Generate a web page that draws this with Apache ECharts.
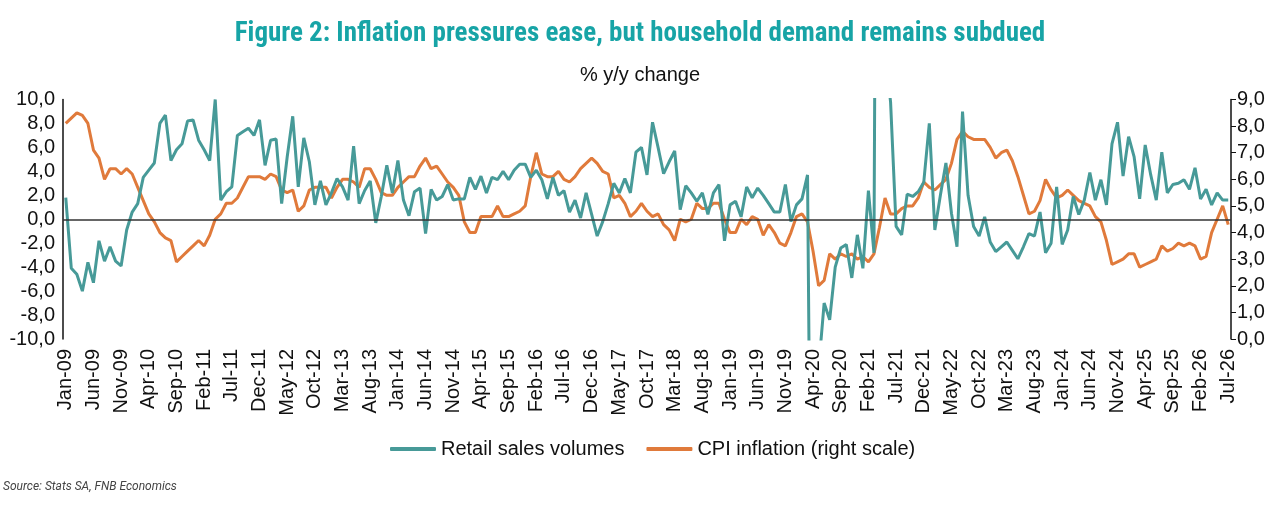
<!DOCTYPE html>
<html>
<head>
<meta charset="utf-8">
<script src="https://cdn.jsdelivr.net/npm/echarts@6/dist/echarts.min.js"></script>
<style>
  html, body { margin: 0; padding: 0; background: #fff; }
  #chart { width: 1280px; height: 520px; }
</style>
</head>
<body>
<div id="chart"></div>
<script>
// month labels Jan-09 ... Jul-26
var monthNames = ['Jan', 'Feb', 'Mar', 'Apr', 'May', 'Jun', 'Jul', 'Aug', 'Sep', 'Oct', 'Nov', 'Dec'];
var categories = [];
for (var y = 2009; y <= 2026; y++) {
    for (var m = 0; m < 12; m++) {
        if (y === 2026 && m > 6) break;
        categories.push(monthNames[m] + '-' + String(y).slice(2));
    }
}

// Retail sales volumes, % y/y (left scale)
var retail = [
    1.8, -4.1, -4.6, -6.0, -3.6, -5.3, -1.8, -3.5, -2.3, -3.5, -3.9, -0.9,   // 2009
    0.6, 1.3, 3.5, 4.1, 4.7, 8.0, 8.7, 4.9, 5.8, 6.3, 8.2, 8.3,              // 2010
    6.6, 5.8, 4.9, 10.0, 1.6, 2.3, 2.7, 7.0, 7.3, 7.6, 7.0, 8.3,             // 2011
    4.5, 6.6, 6.7, 1.3, 5.2, 8.6, 2.7, 6.8, 4.8, 1.2, 3.2, 1.2,              // 2012
    2.2, 3.4, 2.7, 1.6, 6.1, 1.3, 2.4, 3.2, -0.3, 1.9, 4.5, 2.2,             // 2013
    4.9, 1.6, 0.3, 2.3, 2.6, -1.2, 2.5, 1.6, 1.9, 2.9, 1.6, 1.7,             // 2014
    1.7, 3.5, 2.5, 3.6, 2.2, 3.5, 3.3, 4.0, 3.3, 4.1, 4.6, 4.6,              // 2015
    3.5, 4.1, 3.3, 1.7, 3.5, 2.0, 2.4, 0.6, 1.6, 0.1, 2.2, 0.4,              // 2016
    -1.4, -0.2, 1.3, 3.0, 2.2, 3.4, 2.2, 5.6, 6.0, 3.7, 8.1, 6.0,            // 2017
    3.8, 4.8, 5.7, 0.8, 2.8, 2.2, 1.5, 2.2, 0.4, 2.2, 2.9, -1.8,             // 2018
    1.2, 1.5, 0.2, 2.7, 1.8, 2.6, 2.0, 1.3, 0.6, 0.6, 2.9, -0.2,             // 2019
    1.2, 1.7, 3.7, -50.0, -12.5, -7.0, -8.4, -4.0, -2.4, -2.1, -4.9, -1.3,   // 2020
    -4.1, 2.4, -2.8, 97.0, 14.0, 9.8, -0.6, -1.3, 2.1, 1.9, 2.3, 3.1,        // 2021
    8.0, -0.9, 2.0, 4.7, 0.5, -2.3, 9.0, 2.0, -0.6, -1.4, 0.2, -1.9,         // 2022
    -2.7, -2.3, -1.9, -2.6, -3.3, -2.3, -1.2, -1.4, 0.6, -2.8, -2.0, 2.7,    // 2023
    -2.1, -0.9, 1.9, 0.4, 1.6, 3.9, 1.6, 3.3, 1.2, 6.3, 8.1, 3.6,            // 2024
    6.9, 5.2, 1.7, 6.2, 3.7, 1.6, 5.6, 2.2, 2.9, 3.0, 3.3, 2.5,              // 2025
    4.3, 1.7, 2.5, 1.2, 2.2, 1.6, 1.6                                        // 2026
];

// CPI inflation, % y/y (right scale)
var cpi = [
    8.1, 8.3, 8.5, 8.4, 8.1, 7.1, 6.8, 6.0, 6.4, 6.4, 6.2, 6.4,   // 2009
    6.2, 5.7, 5.2, 4.7, 4.4, 4.0, 3.8, 3.7, 2.9, 3.1, 3.3, 3.5,   // 2010
    3.7, 3.5, 3.9, 4.5, 4.7, 5.1, 5.1, 5.3, 5.7, 6.1, 6.1, 6.1,   // 2011
    6.0, 6.2, 6.1, 5.6, 5.5, 5.6, 4.8, 5.0, 5.6, 5.7, 5.7, 5.7,   // 2012
    5.3, 5.7, 6.0, 6.0, 5.9, 5.7, 6.4, 6.4, 6.0, 5.5, 5.4, 5.4,   // 2013
    5.7, 5.9, 6.1, 6.1, 6.5, 6.8, 6.4, 6.5, 6.2, 5.9, 5.7, 5.4,   // 2014
    4.4, 4.0, 4.0, 4.6, 4.6, 4.6, 5.0, 4.6, 4.6, 4.7, 4.8, 5.0,   // 2015
    6.1, 7.0, 6.2, 6.1, 6.1, 6.3, 6.0, 5.9, 6.1, 6.4, 6.6, 6.8,   // 2016
    6.6, 6.3, 6.2, 5.3, 5.4, 5.1, 4.6, 4.8, 5.1, 4.8, 4.6, 4.7,   // 2017
    4.3, 4.1, 3.7, 4.5, 4.4, 4.5, 5.1, 4.9, 4.9, 5.1, 5.1, 4.5,   // 2018
    4.0, 4.0, 4.5, 4.3, 4.6, 4.5, 3.9, 4.3, 4.0, 3.6, 3.5, 4.0,   // 2019
    4.6, 4.7, 4.4, 3.3, 2.0, 2.2, 3.2, 3.0, 3.2, 3.1, 3.2, 3.0,   // 2020
    3.1, 2.9, 3.2, 4.2, 5.3, 4.7, 4.7, 4.9, 5.0, 5.0, 5.3, 5.9,   // 2021
    5.7, 5.6, 5.8, 6.0, 6.6, 7.5, 7.8, 7.6, 7.5, 7.5, 7.5, 7.2,   // 2022
    6.8, 7.0, 7.1, 6.7, 6.1, 5.4, 4.7, 4.8, 5.2, 6.0, 5.6, 5.3,   // 2023
    5.4, 5.6, 5.4, 5.2, 5.1, 5.0, 4.6, 4.4, 3.7, 2.8, 2.9, 3.0,   // 2024
    3.2, 3.2, 2.7, 2.8, 2.9, 3.0, 3.5, 3.3, 3.4, 3.6, 3.5, 3.6,   // 2025
    3.5, 3.0, 3.1, 4.0, 4.5, 5.0, 4.3                             // 2026
];

var leftTicks = { min: -10, max: 10, interval: 2 };
var rightTicks = { min: 0, max: 9, interval: 1 };

var TEAL = '#479a98';
var ORANGE = '#e07a3b';
var LABEL_FONT = "'Liberation Sans', Arial, sans-serif";

function commaFmt(v) {
    return v.toFixed(1).replace('.', ',');
}

var chart = echarts.init(document.getElementById('chart'));

var option = {
    backgroundColor: '#fff',
    animation: false,
    title: {
        text: 'Figure 2: Inflation pressures ease, but household demand remains subdued',
        left: 'center',
        top: 16,
        textStyle: {
            color: '#17a4a6',
            fontSize: 27,
            fontWeight: 'bold',
            fontFamily: "'Liberation Sans Narrow', 'Roboto Condensed', Roboto, sans-serif"
        }
    },
    graphic: [
        {
            type: 'text',
            left: 'center',
            top: 65,
            style: { text: '% y/y change', fontSize: 20, fontFamily: LABEL_FONT, fill: '#111' }
        },
        {
            type: 'text',
            left: 3,
            top: 481,
            style: {
                text: 'Source: Stats SA, FNB Economics',
                fontSize: 12,
                fontStyle: 'italic',
                fontFamily: "'Liberation Sans Narrow', Roboto, sans-serif",
                fill: '#444'
            }
        }
    ],
    legend: {
        top: 434,
        left: 385,
        icon: 'roundRect',
        itemWidth: 46,
        itemHeight: 4,
        itemGap: 22,
        textStyle: { fontSize: 20, fontFamily: LABEL_FONT, color: '#111' },
        data: ['Retail sales volumes', 'CPI inflation (right scale)']
    },
    grid: { left: 63, right: 49, top: 99.5, bottom: 181, containLabel: false },
    xAxis: {
        type: 'category',
        data: categories,
        boundaryGap: true,
        axisLine: { show: false },
        axisTick: { show: false },
        axisLabel: {
            interval: 4,
            rotate: 90,
            margin: 10,
            fontSize: 20,
            fontFamily: LABEL_FONT,
            color: '#111'
        }
    },
    yAxis: [
        {
            type: 'value',
            min: leftTicks.min,
            max: leftTicks.max,
            interval: leftTicks.interval,
            axisLine: { show: true, lineStyle: { color: '#111', width: 1.5 } },
            axisTick: { show: false },
            splitLine: { show: false },
            axisLabel: {
                fontSize: 20,
                fontFamily: LABEL_FONT,
                color: '#111',
                margin: 8,
                formatter: commaFmt
            }
        },
        {
            type: 'value',
            position: 'right',
            min: rightTicks.min,
            max: rightTicks.max,
            interval: rightTicks.interval,
            axisLine: { show: true, lineStyle: { color: '#111', width: 1.5 } },
            axisTick: { show: true, length: 5, lineStyle: { color: '#111' } },
            splitLine: { show: false },
            axisLabel: {
                fontSize: 20,
                fontFamily: LABEL_FONT,
                color: '#111',
                margin: 6,
                formatter: commaFmt
            }
        }
    ],
    series: [
        {
            name: 'Retail sales volumes',
            type: 'line',
            yAxisIndex: 0,
            data: retail,
            symbol: 'none',
            clip: true,
            lineStyle: { color: TEAL, width: 3 },
            itemStyle: { color: TEAL },
            z: 3,
            markLine: {
                silent: true,
                symbol: 'none',
                label: { show: false },
                lineStyle: { color: '#333', width: 1.5, type: 'solid' },
                data: [{ yAxis: 0 }]
            }
        },
        {
            name: 'CPI inflation (right scale)',
            type: 'line',
            yAxisIndex: 1,
            data: cpi,
            symbol: 'none',
            clip: true,
            lineStyle: { color: ORANGE, width: 3 },
            itemStyle: { color: ORANGE },
            z: 2
        }
    ]
};

chart.setOption(option);
</script>
</body>
</html>
